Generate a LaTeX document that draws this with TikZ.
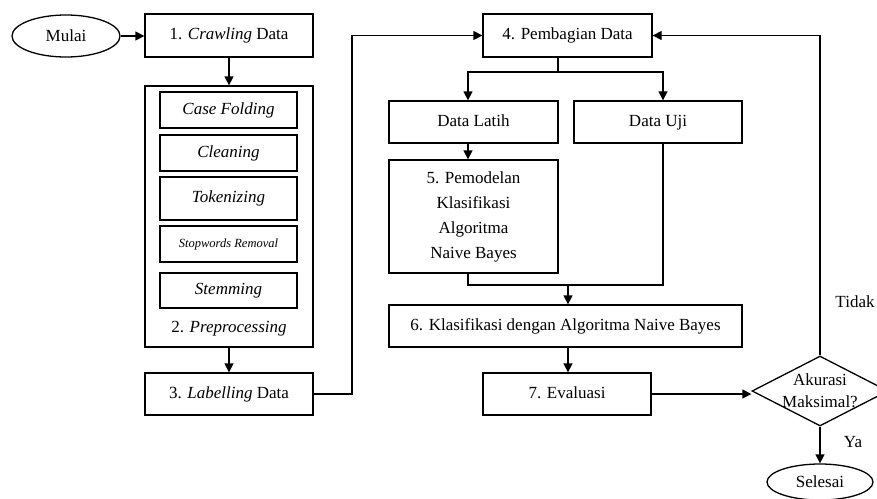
\documentclass[tikz,border=0pt]{standalone}
\usepackage{fontspec}
\setmainfont{Liberation Serif}
\usetikzlibrary{arrows.meta,shapes.geometric}
\begin{document}
\begin{tikzpicture}[x=1pt,y=-1pt,
  every node/.style={font=\fontsize{17}{25}\selectfont},
  box/.style={draw, line width=1.3pt, inner sep=0pt, align=center},
  bigbox/.style={box, minimum width=168pt, minimum height=43pt, text height=12pt, text depth=4pt},
  subbox/.style={box, minimum width=137pt, text height=12pt, text depth=4pt},
  line/.style={line width=1.3pt},
  arr/.style={line, -{Triangle[length=9pt,width=9pt]}},
]
\useasboundingbox (0,0) rectangle (877,498);

\node[ellipse, box, minimum width=108pt, minimum height=42pt] (mulai) at (66,36) {Mulai};
\node[bigbox] (crawl) at (229,35.5) {1. \textit{Crawling} Data};
\node[box, minimum width=168pt, minimum height=261pt] (pre) at (229,216.5) {};
\node (prelabel) at (229,329) {2. \textit{Preprocessing}};
\node[subbox, minimum height=36pt] (cf) at (228.5,110) {\textit{Case Folding}};
\node[subbox, minimum height=36pt] (cl) at (228.5,153) {\textit{Cleaning}};
\node[subbox, minimum height=43pt] (tok) at (228.5,198.5) {\textit{Tokenizing}};
\node[subbox, minimum height=36pt, text height=9pt, text depth=3pt, font=\fontsize{12.5}{15}\selectfont] (stop) at (228.5,244) {\textit{Stopwords Removal}};
\node[subbox, minimum height=35pt] (stem) at (228.5,290.5) {\textit{Stemming}};
\node[bigbox, minimum height=42pt] (label) at (229,394) {3. \textit{Labelling} Data};

\node[bigbox, minimum width=169pt] (pemb) at (567.5,35.5) {4. Pembagian Data};
\node[bigbox, minimum width=169pt, minimum height=42pt] (latih) at (473.5,122) {Data Latih};
\node[bigbox, minimum height=42pt] (uji) at (658,122) {Data Uji};
\node[box, minimum width=169pt, minimum height=113pt] (pemod) at (473.5,216.5) {5. Pemodelan\\Klasifikasi\\Algoritma\\Naive Bayes};
\node[bigbox, minimum width=353pt, minimum height=42pt] (klas) at (565.5,326) {6. Klasifikasi dengan Algoritma Naive Bayes};
\node[bigbox, minimum height=42pt] (eval) at (567,394) {7. Evaluasi};
\node[diamond, box, minimum width=136pt, minimum height=70pt] (dia) at (820,391) {};
\node[align=center, font=\fontsize{17}{22}\selectfont] (diatext) at (820,391) {Akurasi\\Maksimal?};
\node[ellipse, box, minimum width=106pt, minimum height=36pt] (selesai) at (820,482) {Selesai};
\node (tidak) at (855,302) {Tidak};
\node (ya) at (853,442) {Ya};

\coordinate (j1) at (352,394);
\coordinate (sp) at (558,72);
\coordinate (xl) at (468,0);
\coordinate (xu) at (663,0);
\coordinate (mj) at (568,285);

\draw[arr] (mulai.east) -- (mulai.east -| crawl.west);
\draw[arr] (crawl.south) -- (pre.north);
\draw[arr] (pre.south) -- (label.north);
\draw[arr] (label.east) -- (label.east -| j1) |- (pemb.west);
\draw[line] (sp |- pemb.south) -- (sp);
\draw[arr] (sp) -| (xl |- latih.north);
\draw[arr] (sp) -| (xu |- uji.north);
\draw[arr] (xl |- latih.south) -- (xl |- pemod.north);
\draw[line] (xl |- pemod.south) |- (xu |- mj) -- (xu |- uji.south);
\draw[arr] (mj) -- (mj |- klas.north);
\draw[arr] (mj |- klas.south) -- (mj |- eval.north);
\draw[arr] (eval.east) -- (eval.east -| dia.west);
\draw[arr] (dia.north) |- (pemb.east);
\draw[arr] (dia.south) -- (selesai.north);
\end{tikzpicture}
\end{document}
